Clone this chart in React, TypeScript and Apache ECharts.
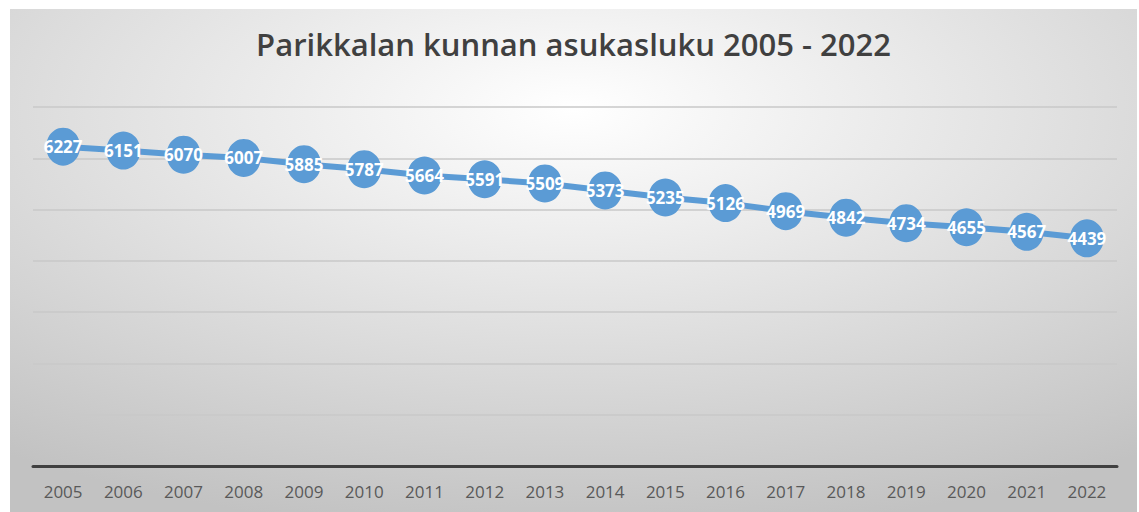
import React, { useEffect, useRef } from "react";
import * as echarts from "echarts";

const titleText = "Parikkalan kunnan asukasluku 2005 - 2022";
const years = ["2005","2006","2007","2008","2009","2010","2011","2012","2013","2014","2015","2016","2017","2018","2019","2020","2021","2022"];
const population = [6227,6151,6070,6007,5885,5787,5664,5591,5509,5373,5235,5126,4969,4842,4734,4655,4567,4439];

export default function App() {
  const ref = useRef<HTMLDivElement>(null);
  useEffect(() => {
    if (!ref.current) return;
    const chart = echarts.init(ref.current, null, { renderer: "svg" });
    chart.setOption({
      animation: false,
      backgroundColor: {
        type: "radial",
        x: 0.5,
        y: 0.2,
        r: 0.85,
        colorStops: [
          { offset: 0, color: "#ffffff" },
          { offset: 1, color: "#c2c2c2" },
        ],
      },
      title: {
        text: titleText,
        left: "center",
        top: 14,
        textStyle: {
          fontFamily: "Open Sans",
          fontSize: 31,
          fontWeight: 600,
          color: "#404040",
        },
      },
      grid: { left: 23, right: 20, top: 98, bottom: 46 },
      xAxis: {
        type: "category",
        data: years,
        boundaryGap: true,
        axisLine: { lineStyle: { color: "#404040", width: 3 } },
        axisTick: { show: false },
        axisLabel: {
          fontFamily: "Open Sans",
          fontSize: 17,
          color: "#595959",
          margin: 17,
        },
      },
      yAxis: {
        type: "value",
        min: 0,
        max: 7000,
        interval: 1000,
        axisLabel: { show: false },
        axisLine: { show: false },
        axisTick: { show: false },
        splitLine: { lineStyle: { color: "#c8c8c8", width: 1.5 } },
      },
      series: [
        {
          type: "line",
          data: population,
          symbol: "circle",
          symbolSize: [34, 38],
          lineStyle: { color: "#5b9bd5", width: 6 },
          itemStyle: { color: "#5b9bd5" },
          label: {
            show: true,
            position: "inside",
            fontFamily: "Open Sans",
            fontSize: 17,
            fontWeight: "bold",
            color: "#ffffff",
          },
        },
      ],
    });
    return () => chart.dispose();
  }, []);
  return (
    <div
      ref={ref}
      style={{ position: "absolute", left: 10, top: 9, width: 1127, height: 503 }}
    />
  );
}
